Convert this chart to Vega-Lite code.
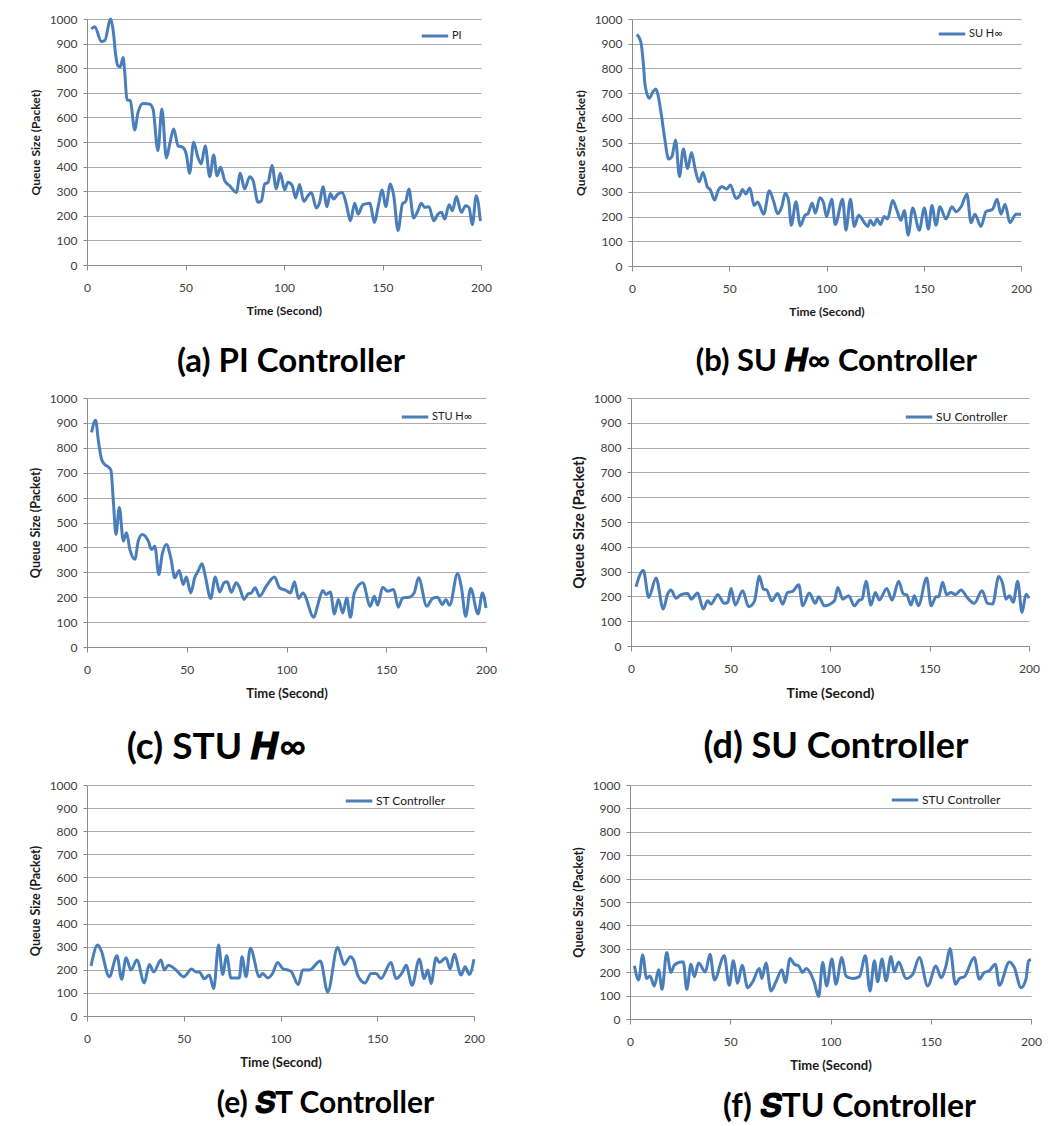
{
  "$schema": "https://vega.github.io/schema/vega-lite/v6.json",
  "background": "white",
  "padding": {"left": 29, "top": 13, "right": 0, "bottom": 0},
  "datasets": {
    "a": [{"t":2.2,"q":959},{"t":3.9,"q":969},{"t":7.3,"q":909},{"t":9,"q":912},{"t":12,"q":1000},{"t":13.5,"q":939},{"t":14.4,"q":864},{"t":15.7,"q":810},{"t":16.9,"q":806},{"t":18.3,"q":844},{"t":19.1,"q":790},{"t":20.3,"q":671},{"t":22,"q":668},{"t":24.2,"q":549},{"t":25.9,"q":620},{"t":28.4,"q":657},{"t":31.8,"q":654},{"t":33.5,"q":634},{"t":36,"q":465},{"t":38,"q":634},{"t":40.3,"q":435},{"t":42,"q":492},{"t":44,"q":553},{"t":46.2,"q":485},{"t":48.7,"q":478},{"t":50.4,"q":451},{"t":52.1,"q":373},{"t":54.1,"q":499},{"t":56.3,"q":438},{"t":58,"q":411},{"t":60,"q":485},{"t":62.3,"q":359},{"t":64.3,"q":447},{"t":66,"q":363},{"t":67.8,"q":397},{"t":69.9,"q":343},{"t":72.4,"q":322},{"t":75.8,"q":295},{"t":77.8,"q":373},{"t":80,"q":309},{"t":82.6,"q":359},{"t":84.3,"q":343},{"t":86.8,"q":255},{"t":88.5,"q":261},{"t":90.2,"q":329},{"t":91.9,"q":336},{"t":93.9,"q":404},{"t":96.1,"q":309},{"t":98.1,"q":373},{"t":100.3,"q":305},{"t":102,"q":336},{"t":104.2,"q":322},{"t":105.9,"q":272},{"t":107.9,"q":327},{"t":110,"q":259},{"t":112.2,"q":282},{"t":113.9,"q":295},{"t":116.4,"q":232},{"t":118.1,"q":255},{"t":119.8,"q":318},{"t":121.8,"q":237},{"t":123.5,"q":291},{"t":125.2,"q":268},{"t":127.4,"q":289},{"t":129.6,"q":295},{"t":131.6,"q":248},{"t":133.7,"q":180},{"t":135.9,"q":251},{"t":137.6,"q":207},{"t":140.1,"q":245},{"t":143.5,"q":251},{"t":146,"q":173},{"t":147.7,"q":234},{"t":149.9,"q":305},{"t":151.6,"q":237},{"t":154,"q":329},{"t":155.7,"q":282},{"t":157.9,"q":140},{"t":160.1,"q":248},{"t":161.8,"q":259},{"t":163.4,"q":309},{"t":165.8,"q":191},{"t":168,"q":221},{"t":169.7,"q":251},{"t":171.4,"q":234},{"t":173.6,"q":237},{"t":176,"q":180},{"t":178.2,"q":207},{"t":179.9,"q":214},{"t":181.6,"q":187},{"t":183.8,"q":245},{"t":185.5,"q":221},{"t":187.5,"q":278},{"t":190,"q":214},{"t":192.2,"q":241},{"t":193.9,"q":234},{"t":195.6,"q":164},{"t":197.6,"q":282},{"t":199.7,"q":178}],
    "b": [{"t":2.5,"q":938},{"t":4.5,"q":908},{"t":5.9,"q":814},{"t":6.7,"q":733},{"t":8.9,"q":679},{"t":10.6,"q":703},{"t":12.3,"q":717},{"t":13.4,"q":692},{"t":15.1,"q":611},{"t":16.8,"q":517},{"t":18.8,"q":433},{"t":20.5,"q":443},{"t":22.4,"q":510},{"t":24.4,"q":362},{"t":26.4,"q":474},{"t":28.6,"q":395},{"t":30.6,"q":460},{"t":32.4,"q":395},{"t":34.5,"q":341},{"t":36.5,"q":379},{"t":38.7,"q":321},{"t":40.3,"q":308},{"t":42.5,"q":267},{"t":44.2,"q":304},{"t":46.2,"q":321},{"t":48.7,"q":312},{"t":50.6,"q":328},{"t":53.4,"q":274},{"t":55.5,"q":287},{"t":56.8,"q":310},{"t":58.5,"q":292},{"t":60.6,"q":316},{"t":62.8,"q":245},{"t":64.6,"q":259},{"t":67.7,"q":210},{"t":70.6,"q":305},{"t":72.8,"q":262},{"t":74.9,"q":212},{"t":77,"q":240},{"t":78.8,"q":295},{"t":80.5,"q":265},{"t":81.9,"q":165},{"t":84.3,"q":260},{"t":86.5,"q":163},{"t":89,"q":206},{"t":90.5,"q":212},{"t":92.6,"q":255},{"t":94.3,"q":214},{"t":96.6,"q":276},{"t":98.5,"q":255},{"t":100,"q":200},{"t":102.7,"q":270},{"t":104.5,"q":168},{"t":108.3,"q":270},{"t":110,"q":145},{"t":112.3,"q":270},{"t":114.3,"q":160},{"t":116.5,"q":205},{"t":119.5,"q":175},{"t":121.2,"q":160},{"t":122.5,"q":185},{"t":124.3,"q":165},{"t":126,"q":190},{"t":127.7,"q":168},{"t":129.7,"q":200},{"t":131.4,"q":190},{"t":134,"q":265},{"t":136.2,"q":225},{"t":138.3,"q":185},{"t":140,"q":225},{"t":142,"q":125},{"t":144.3,"q":235},{"t":147.7,"q":145},{"t":150.3,"q":235},{"t":152.4,"q":150},{"t":154.2,"q":245},{"t":156.3,"q":165},{"t":158.3,"q":240},{"t":161.4,"q":190},{"t":164.5,"q":240},{"t":166.6,"q":220},{"t":169.2,"q":240},{"t":172.2,"q":290},{"t":174.3,"q":175},{"t":176.3,"q":210},{"t":179.4,"q":160},{"t":182,"q":220},{"t":185.4,"q":230},{"t":187.7,"q":270},{"t":189.7,"q":210},{"t":191.8,"q":250},{"t":194.3,"q":175},{"t":197.4,"q":210},{"t":200,"q":210}],
    "c": [{"t":2.3,"q":862},{"t":4.3,"q":911},{"t":5.7,"q":828},{"t":7.3,"q":754},{"t":9,"q":732},{"t":10.7,"q":723},{"t":12,"q":710},{"t":13.2,"q":587},{"t":14.5,"q":452},{"t":16.2,"q":560},{"t":18.2,"q":426},{"t":19.8,"q":459},{"t":21.5,"q":392},{"t":24,"q":352},{"t":25.7,"q":426},{"t":27.7,"q":452},{"t":30.7,"q":426},{"t":32.3,"q":392},{"t":34,"q":405},{"t":36,"q":291},{"t":37.7,"q":372},{"t":39.8,"q":412},{"t":42,"q":358},{"t":44,"q":278},{"t":46.2,"q":307},{"t":48.2,"q":251},{"t":49.8,"q":281},{"t":52,"q":217},{"t":54,"q":278},{"t":55.7,"q":305},{"t":57.7,"q":334},{"t":59.3,"q":285},{"t":62,"q":195},{"t":64.3,"q":281},{"t":66.5,"q":221},{"t":68.7,"q":258},{"t":70.3,"q":262},{"t":72.3,"q":220},{"t":74.8,"q":258},{"t":76.5,"q":238},{"t":78.7,"q":191},{"t":80.7,"q":213},{"t":82.3,"q":217},{"t":84.3,"q":238},{"t":86.5,"q":204},{"t":89.8,"q":244},{"t":94,"q":281},{"t":96.5,"q":238},{"t":99.8,"q":227},{"t":102,"q":217},{"t":104,"q":262},{"t":106,"q":195},{"t":108.2,"q":217},{"t":113.7,"q":119},{"t":115.7,"q":170},{"t":118.2,"q":227},{"t":119.8,"q":211},{"t":122,"q":221},{"t":124,"q":133},{"t":126,"q":191},{"t":128.2,"q":137},{"t":130.2,"q":197},{"t":132,"q":119},{"t":134,"q":217},{"t":138.2,"q":258},{"t":142,"q":164},{"t":144,"q":204},{"t":145.7,"q":168},{"t":148.2,"q":240},{"t":150.7,"q":224},{"t":153.7,"q":231},{"t":156,"q":160},{"t":158.2,"q":197},{"t":161.5,"q":200},{"t":164,"q":217},{"t":166.2,"q":278},{"t":170.3,"q":164},{"t":173.2,"q":195},{"t":175.7,"q":200},{"t":178.2,"q":170},{"t":179.8,"q":191},{"t":181.8,"q":168},{"t":185.7,"q":294},{"t":187.7,"q":238},{"t":189.8,"q":123},{"t":192.3,"q":235},{"t":196,"q":133},{"t":198.2,"q":217},{"t":200,"q":157}],
    "d": [{"t":2.5,"q":239},{"t":6.2,"q":304},{"t":8.9,"q":196},{"t":12.6,"q":274},{"t":16.2,"q":149},{"t":18.4,"q":209},{"t":20.1,"q":226},{"t":22.6,"q":193},{"t":25.1,"q":207},{"t":28.5,"q":212},{"t":30.2,"q":189},{"t":33.5,"q":214},{"t":36.3,"q":149},{"t":38.5,"q":182},{"t":40.2,"q":169},{"t":43.6,"q":207},{"t":46.9,"q":172},{"t":48.6,"q":176},{"t":50.3,"q":232},{"t":52.4,"q":165},{"t":56.1,"q":223},{"t":59.1,"q":158},{"t":62,"q":180},{"t":64.5,"q":281},{"t":66.5,"q":230},{"t":68.2,"q":226},{"t":70.7,"q":182},{"t":73.7,"q":212},{"t":76.2,"q":169},{"t":78.7,"q":216},{"t":81.2,"q":220},{"t":84.3,"q":247},{"t":86.3,"q":162},{"t":89.6,"q":214},{"t":92.6,"q":172},{"t":94.3,"q":199},{"t":97.2,"q":162},{"t":102.2,"q":182},{"t":103.9,"q":236},{"t":106.4,"q":189},{"t":109.4,"q":203},{"t":112.2,"q":162},{"t":114.7,"q":185},{"t":116.1,"q":189},{"t":118.1,"q":261},{"t":120.6,"q":165},{"t":122.8,"q":216},{"t":124.8,"q":185},{"t":128.5,"q":232},{"t":131.2,"q":185},{"t":134.5,"q":261},{"t":136.9,"q":209},{"t":138.5,"q":207},{"t":140.7,"q":165},{"t":142.4,"q":203},{"t":144.4,"q":162},{"t":148.6,"q":274},{"t":150.8,"q":162},{"t":153.3,"q":199},{"t":154.6,"q":199},{"t":156.6,"q":257},{"t":158.6,"q":207},{"t":160.8,"q":216},{"t":163,"q":207},{"t":165.8,"q":226},{"t":169.2,"q":193},{"t":172.5,"q":172},{"t":176.4,"q":223},{"t":179.2,"q":172},{"t":181.7,"q":169},{"t":184.8,"q":280},{"t":186.8,"q":250},{"t":188.4,"q":189},{"t":190.2,"q":203},{"t":192.1,"q":176},{"t":194.3,"q":261},{"t":196.5,"q":135},{"t":198.5,"q":209},{"t":200,"q":193}],
    "e": [{"t":2.1,"q":217},{"t":5.5,"q":307},{"t":7.2,"q":286},{"t":11.5,"q":170},{"t":15.5,"q":261},{"t":17.9,"q":159},{"t":20.2,"q":252},{"t":22.7,"q":199},{"t":25.8,"q":242},{"t":29.6,"q":143},{"t":32.2,"q":223},{"t":34.5,"q":191},{"t":38.2,"q":242},{"t":40,"q":199},{"t":42,"q":220},{"t":45.5,"q":203},{"t":50,"q":170},{"t":54.1,"q":203},{"t":56.3,"q":191},{"t":58,"q":191},{"t":60.6,"q":162},{"t":63.2,"q":177},{"t":65.5,"q":119},{"t":68,"q":307},{"t":70.1,"q":180},{"t":72.2,"q":261},{"t":74.4,"q":165},{"t":78.7,"q":165},{"t":80.1,"q":257},{"t":82.2,"q":170},{"t":84.4,"q":293},{"t":89.1,"q":170},{"t":90.8,"q":184},{"t":93.4,"q":165},{"t":95.9,"q":184},{"t":98.5,"q":232},{"t":101.1,"q":206},{"t":105.4,"q":194},{"t":109.2,"q":136},{"t":111.5,"q":199},{"t":114.9,"q":199},{"t":120.6,"q":238},{"t":124.4,"q":104},{"t":129.5,"q":296},{"t":133,"q":223},{"t":136.1,"q":257},{"t":137.8,"q":242},{"t":139.9,"q":177},{"t":143.7,"q":143},{"t":146.8,"q":184},{"t":149.4,"q":184},{"t":151.9,"q":162},{"t":157.1,"q":232},{"t":159.7,"q":162},{"t":163.1,"q":191},{"t":164.9,"q":220},{"t":168,"q":133},{"t":171.7,"q":246},{"t":174.3,"q":162},{"t":176.1,"q":199},{"t":177.8,"q":141},{"t":180.4,"q":252},{"t":182.1,"q":232},{"t":185.5,"q":252},{"t":187.7,"q":203},{"t":189.8,"q":267},{"t":193.3,"q":177},{"t":195.4,"q":213},{"t":197.6,"q":180},{"t":200,"q":246}],
    "f": [{"t":2.2,"q":227},{"t":4.3,"q":167},{"t":6.3,"q":273},{"t":8.3,"q":173},{"t":10,"q":184},{"t":12.1,"q":141},{"t":14.3,"q":210},{"t":16,"q":127},{"t":18.3,"q":284},{"t":20.4,"q":199},{"t":22.1,"q":230},{"t":25.4,"q":244},{"t":26.6,"q":244},{"t":28.3,"q":127},{"t":30.4,"q":234},{"t":32.1,"q":181},{"t":34.2,"q":239},{"t":37.6,"q":201},{"t":39.9,"q":277},{"t":42.1,"q":167},{"t":47,"q":270},{"t":49.5,"q":144},{"t":51.5,"q":249},{"t":53.7,"q":153},{"t":55.9,"q":230},{"t":58.7,"q":134},{"t":61.2,"q":159},{"t":64.5,"q":216},{"t":65.8,"q":173},{"t":67.8,"q":239},{"t":70.3,"q":120},{"t":72.8,"q":159},{"t":75.8,"q":210},{"t":77.5,"q":156},{"t":79.8,"q":259},{"t":82,"q":234},{"t":84.1,"q":227},{"t":86.1,"q":199},{"t":87.8,"q":216},{"t":90.3,"q":191},{"t":91.9,"q":156},{"t":94.1,"q":96},{"t":96.1,"q":241},{"t":98.1,"q":141},{"t":100.7,"q":256},{"t":102.7,"q":149},{"t":105.7,"q":263},{"t":107.7,"q":184},{"t":111.1,"q":173},{"t":114.4,"q":181},{"t":117.4,"q":270},{"t":119.7,"q":120},{"t":121.9,"q":249},{"t":123.5,"q":159},{"t":125.7,"q":256},{"t":127.7,"q":163},{"t":130.2,"q":267},{"t":131.8,"q":201},{"t":134,"q":244},{"t":137.7,"q":173},{"t":141,"q":191},{"t":144.3,"q":263},{"t":148.5,"q":141},{"t":152.6,"q":227},{"t":155.1,"q":177},{"t":157.6,"q":227},{"t":159.6,"q":301},{"t":162.3,"q":149},{"t":164.3,"q":173},{"t":166.8,"q":181},{"t":171.7,"q":263},{"t":174.2,"q":170},{"t":176.7,"q":199},{"t":179.2,"q":206},{"t":182.2,"q":234},{"t":184.2,"q":144},{"t":189.2,"q":244},{"t":191.7,"q":220},{"t":195,"q":134},{"t":197.5,"q":170},{"t":198.8,"q":249},{"t":200,"q":253}]
  },
  "vconcat": [
    {
      "hconcat": [
        {
          "width": 394, "height": 246,
          "data": {"name": "a"},
          "title": {"text": "(a) PI Controller", "dx": 7, "fontSize": 33},
          "mark": {"type": "line", "interpolate": "monotone", "strokeWidth": 3},
          "encoding": {
            "x": {"field": "t", "type": "quantitative", "scale": {"domain": [0, 200], "nice": false}, "axis": {"title": "Time (Second)", "values": [0, 50, 100, 150, 200]}},
            "y": {"field": "q", "type": "quantitative", "scale": {"domain": [0, 1000], "nice": false}, "axis": {"title": "Queue Size (Packet)", "values": [0, 100, 200, 300, 400, 500, 600, 700, 800, 900, 1000]}},
            "color": {"datum": "PI", "type": "nominal", "scale": {"range": ["#4A7EBB"]}, "legend": {"legendX": 333, "legendY": 2}}
          }
        },
        {
          "width": 389, "height": 247,
          "data": {"name": "b"},
          "title": {"text": "(b) SU 𝑯∞ Controller", "dx": 10, "fontSize": 31},
          "mark": {"type": "line", "interpolate": "monotone", "strokeWidth": 3},
          "encoding": {
            "x": {"field": "t", "type": "quantitative", "scale": {"domain": [0, 200], "nice": false}, "axis": {"title": "Time (Second)", "values": [0, 50, 100, 150, 200]}},
            "y": {"field": "q", "type": "quantitative", "scale": {"domain": [0, 1000], "nice": false}, "axis": {"title": "Queue Size (Packet)", "values": [0, 100, 200, 300, 400, 500, 600, 700, 800, 900, 1000]}},
            "color": {"datum": "SU H∞", "type": "nominal", "scale": {"range": ["#4A7EBB"]}, "legend": {"legendX": 305, "legendY": 0}}
          }
        }
      ],
      "spacing": 82,
      "resolve": {"scale": {"color": "independent"}, "legend": {"color": "independent"}}
    },
    {
      "hconcat": [
        {
          "width": 399, "height": 249,
          "data": {"name": "c"},
          "title": {"text": "(c) STU 𝑯∞", "dx": -70, "fontSize": 37},
          "mark": {"type": "line", "interpolate": "monotone", "strokeWidth": 3},
          "encoding": {
            "x": {"field": "t", "type": "quantitative", "scale": {"domain": [0, 200], "nice": false}, "axis": {"title": "Time (Second)", "values": [0, 50, 100, 150, 200], "titleFontSize": 13}},
            "y": {"field": "q", "type": "quantitative", "scale": {"domain": [0, 1000], "nice": false}, "axis": {"title": "Queue Size (Packet)", "values": [0, 100, 200, 300, 400, 500, 600, 700, 800, 900, 1000], "titleFontSize": 12.5}},
            "color": {"datum": "STU H∞", "type": "nominal", "scale": {"range": ["#4A7EBB"]}, "legend": {"legendX": 313, "legendY": 4}}
          }
        },
        {
          "width": 398, "height": 248,
          "data": {"name": "d"},
          "title": {"text": "(d) SU Controller", "dx": 6, "fontSize": 36},
          "mark": {"type": "line", "interpolate": "monotone", "strokeWidth": 3},
          "encoding": {
            "x": {"field": "t", "type": "quantitative", "scale": {"domain": [0, 200], "nice": false}, "axis": {"title": "Time (Second)", "values": [0, 50, 100, 150, 200], "titleFontSize": 14}},
            "y": {"field": "q", "type": "quantitative", "scale": {"domain": [0, 1000], "nice": false}, "axis": {"title": "Queue Size (Packet)", "values": [0, 100, 200, 300, 400, 500, 600, 700, 800, 900, 1000], "titleFontSize": 15}},
            "color": {"datum": "SU Controller", "type": "nominal", "scale": {"range": ["#4A7EBB"]}, "legend": {"legendX": 273, "legendY": 4, "labelFontSize": 12}}
          }
        }
      ],
      "spacing": 74,
      "resolve": {"scale": {"color": "independent"}, "legend": {"color": "independent"}}
    },
    {
      "hconcat": [
        {
          "width": 387, "height": 231,
          "data": {"name": "e"},
          "title": {"text": "(e) 𝑺T Controller", "dx": 45, "fontSize": 30, "offset": 20},
          "mark": {"type": "line", "interpolate": "monotone", "strokeWidth": 3},
          "encoding": {
            "x": {"field": "t", "type": "quantitative", "scale": {"domain": [0, 200], "nice": false}, "axis": {"title": "Time (Second)", "values": [0, 50, 100, 150, 200], "titleFontSize": 13}},
            "y": {"field": "q", "type": "quantitative", "scale": {"domain": [0, 1000], "nice": false}, "axis": {"title": "Queue Size (Packet)", "values": [0, 100, 200, 300, 400, 500, 600, 700, 800, 900, 1000], "titleFontSize": 12.5}},
            "color": {"datum": "ST Controller", "type": "nominal", "scale": {"range": ["#4A7EBB"]}, "legend": {"legendX": 257, "legendY": 1, "labelFontSize": 12}}
          }
        },
        {
          "width": 401, "height": 234,
          "data": {"name": "f"},
          "title": {"text": "(f) 𝑺TU Controller", "dx": 19, "fontSize": 32, "offset": 20},
          "mark": {"type": "line", "interpolate": "monotone", "strokeWidth": 3},
          "encoding": {
            "x": {"field": "t", "type": "quantitative", "scale": {"domain": [0, 200], "nice": false}, "axis": {"title": "Time (Second)", "values": [0, 50, 100, 150, 200], "titleFontSize": 13}},
            "y": {"field": "q", "type": "quantitative", "scale": {"domain": [0, 1000], "nice": false}, "axis": {"title": "Queue Size (Packet)", "values": [0, 100, 200, 300, 400, 500, 600, 700, 800, 900, 1000], "titleFontSize": 12.5}},
            "color": {"datum": "STU Controller", "type": "nominal", "scale": {"range": ["#4A7EBB"]}, "legend": {"legendX": 260, "legendY": 0, "labelFontSize": 12}}
          }
        }
      ],
      "spacing": 87,
      "resolve": {"scale": {"color": "independent"}, "legend": {"color": "independent"}}
    }
  ],
  "spacing": 13,
  "resolve": {"scale": {"color": "independent"}, "legend": {"color": "independent"}},
  "config": {
    "font": "Lato",
    "view": {"stroke": null},
    "axis": {
      "labelFont": "Lato", "titleFont": "Lato", "labelFontSize": 12, "titleFontSize": 12, "titleFontWeight": "bold",
      "labelColor": "#404040", "titleColor": "#1a1a1a", "domainColor": "#8c8c8c", "tickColor": "#8c8c8c", "gridColor": "#ababab",
      "labelFlush": false, "labelOverlap": false, "format": "d"
    },
    "axisX": {"grid": false, "tickSize": 5, "labelPadding": 12, "titlePadding": 12},
    "axisY": {"grid": true, "tickSize": 4, "labelPadding": 6, "titlePadding": 7},
    "legend": {
      "orient": "none", "title": null, "symbolType": "stroke", "symbolStrokeWidth": 3, "symbolSize": 700,
      "labelFont": "Lato", "labelFontSize": 11, "labelColor": "#1a1a1a", "padding": 0, "labelOffset": 2
    },
    "title": {"orient": "bottom", "anchor": "middle", "fontSize": 29, "fontWeight": "bold", "color": "#000000", "font": "Lato", "offset": 30}
  }
}
